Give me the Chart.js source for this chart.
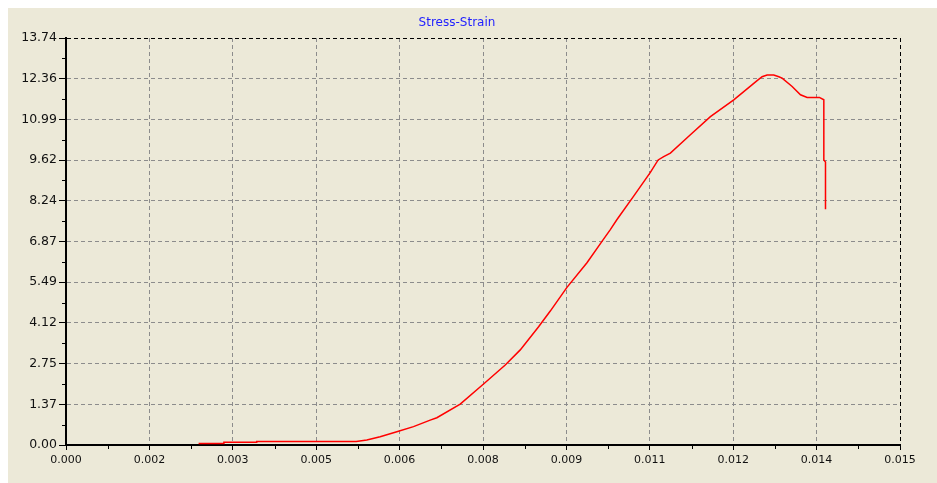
<!DOCTYPE html>
<html>
<head>
<meta charset="utf-8">
<script src="https://cdn.jsdelivr.net/npm/chart.js@4.4.1/dist/chart.umd.min.js"></script>
<style>
  html, body { margin: 0; padding: 0; background: #ffffff; }
  #panel { position: absolute; left: 8px; top: 8px; width: 929px; height: 475px; background: #ece9d8; }
</style>
</head>
<body>
<div id="panel"><canvas id="stressChart" width="929" height="475"></canvas></div>
<script>
const strain = [0.002385, 0.00283, 0.00284, 0.00342, 0.00343, 0.00522, 0.00541, 0.00565, 0.00595, 0.00625,
    0.00655, 0.00667, 0.00709, 0.00751, 0.00790, 0.00817, 0.00850, 0.00871, 0.00901, 0.00937,
    0.00964, 0.00979, 0.00991, 0.01021, 0.01051, 0.01065, 0.01075, 0.01087, 0.01123, 0.01159,
    0.01201, 0.01243, 0.01252, 0.01261, 0.01273, 0.01282, 0.01288, 0.01306, 0.01321, 0.01333,
    0.01355, 0.01363, 0.01363, 0.01366, 0.01366];
const stress = [0.05, 0.05, 0.09, 0.09, 0.12, 0.12, 0.17, 0.28, 0.45, 0.62,
    0.84, 0.92, 1.38, 2.06, 2.70, 3.21, 3.99, 4.52, 5.32, 6.15,
    6.87, 7.27, 7.61, 8.40, 9.20, 9.62, 9.73, 9.85, 10.47, 11.08,
    11.65, 12.30, 12.43, 12.49, 12.49, 12.43, 12.38, 12.10, 11.82, 11.73,
    11.73, 11.65, 9.62, 9.55, 7.96];

const xTickLabels = ['0.000', '0.002', '0.003', '0.005', '0.006', '0.008', '0.009', '0.011', '0.012', '0.014', '0.015'];
const yTickLabels = ['0.00', '1.37', '2.75', '4.12', '5.49', '6.87', '8.24', '9.62', '10.99', '12.36', '13.74'];
const xMax = 0.015;
const yMax = 13.736;

Chart.defaults.font.family = 'DejaVu Sans';

const points = strain.map((s, i) => ({ x: s, y: stress[i] }));

// small marks between the major ticks
const minorTicks = {
    id: 'minorTicks',
    afterDraw(chart) {
        const ctx = chart.ctx;
        const xs = chart.scales.x, ys = chart.scales.y;
        ctx.save();
        ctx.strokeStyle = '#000';
        ctx.lineWidth = 1;
        ctx.beginPath();
        for (let i = 0; i < xTickLabels.length - 1; i++) {
            const px = Math.round(xs.getPixelForValue((i + 0.5) * xMax / 10)) + 0.5;
            ctx.moveTo(px, ys.bottom + 1);
            ctx.lineTo(px, ys.bottom + 4);
        }
        for (let i = 0; i < yTickLabels.length - 1; i++) {
            const py = Math.round(ys.getPixelForValue((i + 0.5) * yMax / 10)) + 0.5;
            ctx.moveTo(xs.left - 4, py);
            ctx.lineTo(xs.left - 1, py);
        }
        ctx.stroke();
        ctx.restore();
    }
};

const stressChart = new Chart(document.getElementById('stressChart').getContext('2d'), {
    type: 'line',
    data: {
        datasets: [{
            label: 'Stress-Strain',
            data: points,
            borderColor: '#ff0000',
            borderWidth: 1.5,
            pointRadius: 0,
            tension: 0,
            fill: false
        }]
    },
    options: {
        responsive: false,
        animation: false,
        layout: { padding: { left: 6, right: 37, top: 0, bottom: 8 } },
        plugins: {
            legend: { display: false },
            tooltip: { enabled: false },
            title: {
                display: true,
                text: 'Stress-Strain',
                color: '#1e1eff',
                font: { size: 12, weight: 'normal' },
                padding: { top: 8, bottom: 7.6 }
            }
        },
        scales: {
            x: {
                type: 'linear',
                min: 0,
                max: xMax,
                afterBuildTicks: axis => { axis.ticks = xTickLabels.map((l, i) => ({ value: i * xMax / 10 })); },
                afterFit: axis => { axis.height = 30; },
                ticks: {
                    color: '#111',
                    font: { size: 11 },
                    padding: 4,
                    maxRotation: 0,
                    callback: (v, i) => xTickLabels[i]
                },
                grid: {
                    color: ctx => (ctx.index === xTickLabels.length - 1 ? '#000' : '#8c8c8c'),
                    tickColor: '#000',
                    tickLength: 5,
                    lineWidth: 1
                },
                border: { display: true, color: '#000', width: 2, dash: [4, 3] }
            },
            y: {
                min: 0,
                max: yMax,
                afterBuildTicks: axis => { axis.ticks = yTickLabels.map((l, i) => ({ value: i * yMax / 10 })); },
                afterFit: axis => { axis.width = 52; },
                ticks: {
                    color: '#111',
                    font: { size: 12.5 },
                    padding: 2,
                    callback: (v, i) => yTickLabels[i]
                },
                grid: {
                    color: ctx => (ctx.index === yTickLabels.length - 1 ? '#000' : '#8c8c8c'),
                    tickColor: '#000',
                    tickLength: 7,
                    lineWidth: 1
                },
                border: { display: true, color: '#000', width: 2, dash: [4, 3] }
            }
        }
    },
    plugins: [minorTicks]
});
</script>
</body>
</html>
